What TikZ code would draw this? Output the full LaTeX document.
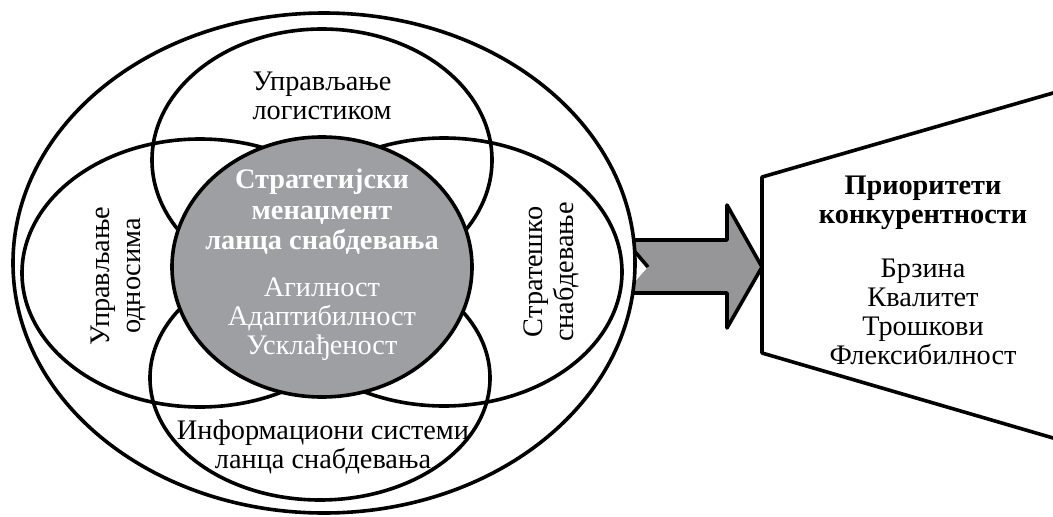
\documentclass[tikz,border=0pt]{standalone}
\usepackage{fontspec}
\setmainfont{Liberation Serif}
\definecolor{coregray}{RGB}{158,159,162}
\definecolor{arrowgray}{RGB}{150,150,152}
\tikzset{
  ring/.style={line width=3.6pt, draw=black},
  lbl/.style={align=center, font=\fontsize{28.3}{29}\selectfont, inner sep=0pt},
  corelbl/.style={lbl, text=white},
}
\begin{document}
\begin{tikzpicture}[x=1pt, y=-1pt, line join=round]
\useasboundingbox (0,0) rectangle (1053,517);
\clip (0,0) rectangle (1053,517);

% block arrow pointing at the priorities panel
\coordinate (a1) at (625,240);
\coordinate (a2) at (727,240);
\coordinate (a3) at (727,205);
\coordinate (tip) at (762,267);
\coordinate (a5) at (727,328);
\coordinate (a6) at (727,293);
\coordinate (a7) at (625,293);
\coordinate (notch) at (648,267);
\fill[arrowgray] (a1) -- (a2) -- (a3) -- (tip) -- (a5) -- (a6) -- (a7) -- (notch) -- cycle;
\draw[line width=3.6pt] (a7) -- (a6) -- (a5) -- (tip) -- (a3) -- (a2) -- (a1) -- (notch);

% outer frame
\draw[ring, fill=white] (324,263) ellipse [x radius=311pt, y radius=250pt];

% four overlapping areas
\draw[ring] (322,160) ellipse [x radius=170pt, y radius=131pt];
\draw[ring] (320,378) ellipse [x radius=170pt, y radius=122pt];
\draw[ring] (200,273) ellipse [x radius=178pt, y radius=134pt];
\draw[ring] (444,272) ellipse [x radius=178pt, y radius=134pt];

% core
\draw[ring, fill=coregray] (322,267) ellipse [x radius=150pt, y radius=130pt];

% labels of the areas
\node[lbl] (logistika) at (322,96) {Управљање\\логистиком};
\node[lbl, rotate=90, font=\fontsize{28.3}{31}\selectfont] (odnosi) at (118,276) {Управљање\\односима};
\node[lbl, rotate=90, font=\fontsize{28.3}{31}\selectfont] (nabavka) at (551,272) {Стратешко\\снабдевање};
\node[lbl] (info) at (323,447) {Информациони системи\\ланца снабдевања};

% core labels
\node[corelbl, font=\fontsize{28.3}{30.5}\selectfont\bfseries] (smlsc) at (322,212) {Стратегијски\\менаџмент\\ланца снабдевања};
\node[corelbl] (svojstva) at (322,319) {Агилност\\Адаптибилност\\Усклађеност};

% priorities panel
\draw[line width=3.6pt] (1060,91) -- (762,177) -- (762,353) -- (1060,440);
\node[lbl, font=\fontsize{28.3}{29}\selectfont\bfseries] (prior) at (923,203) {Приоритети\\конкурентности};
\node[lbl] (lista) at (923,312) {Брзина\\Квалитет\\Трошкови\\Флексибилност};
\end{tikzpicture}
\end{document}
